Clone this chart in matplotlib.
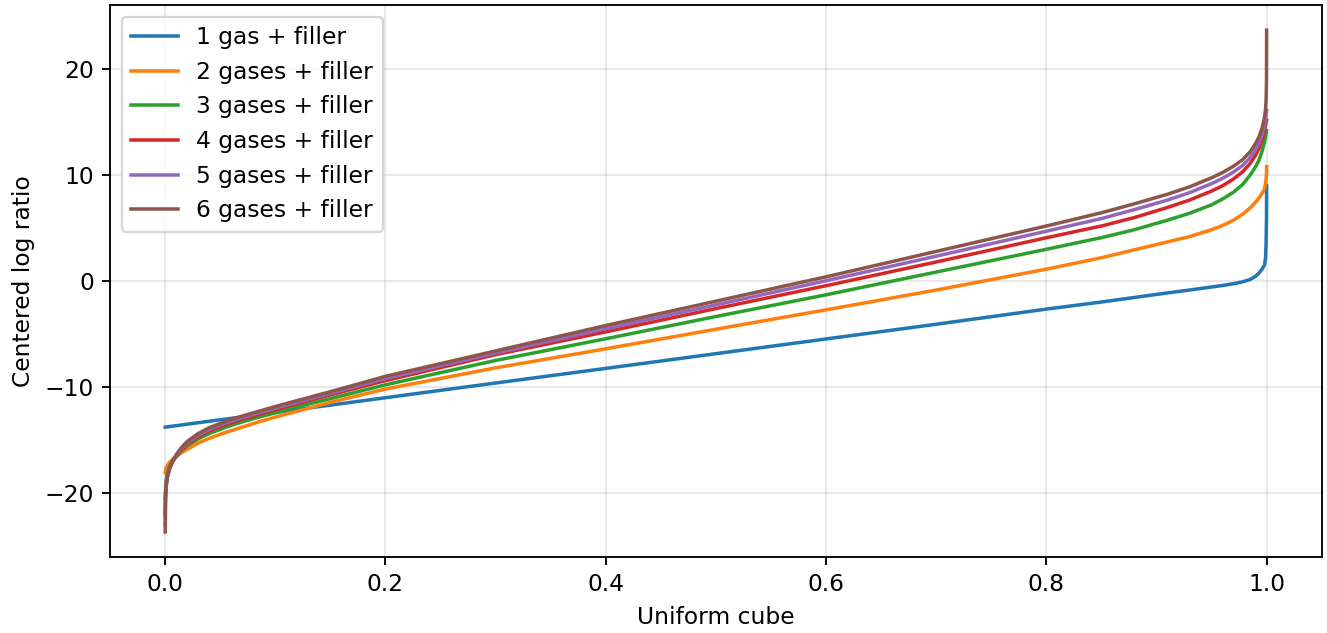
import matplotlib
matplotlib.use("Agg")
import matplotlib.pyplot as plt

# uniform cube coordinate
u = [0, 0.0002, 0.0005, 0.001, 0.002, 0.004, 0.007, 0.01, 0.015, 0.02, 0.03,
     0.04, 0.055, 0.07, 0.085, 0.1, 0.125, 0.15, 0.2, 0.3, 0.4, 0.5, 0.6, 0.7,
     0.8, 0.85, 0.88, 0.91, 0.93, 0.95, 0.96, 0.97, 0.978, 0.985, 0.99, 0.993,
     0.996, 0.998, 0.999, 0.9995, 0.9999, 1.0]

clr_1 = [-13.8, -13.8, -13.79, -13.79, -13.77, -13.74, -13.7, -13.66, -13.59,
         -13.52, -13.38, -13.24, -13.04, -12.83, -12.62, -12.41, -12.06, -11.72,
         -11.02, -9.63, -8.25, -6.86, -5.47, -4.08, -2.65, -1.98, -1.55, -1.12,
         -0.85, -0.56, -0.42, -0.25, -0.08, 0.15, 0.45, 0.75, 1.15, 1.5, 2.2,
         3.5, 6.0, 9.0]
clr_2 = [-18.1, -17.95, -17.8, -17.6, -17.4, -17.1, -16.8, -16.6, -16.2, -15.9,
         -15.3, -14.85, -14.3, -13.8, -13.3, -12.85, -12.15, -11.45, -10.2, -8.2,
         -6.4, -4.55, -2.72, -0.85, 1.12, 2.2, 2.95, 3.7, 4.2, 4.85, 5.25, 5.75,
         6.3, 6.9, 7.45, 7.85, 8.3, 8.7, 9.2, 9.6, 10.2, 10.8]
clr_3 = [-20.5, -19.8, -19.2, -18.7, -18.1, -17.5, -16.95, -16.6, -16.0, -15.55,
         -14.9, -14.4, -13.8, -13.3, -12.85, -12.45, -11.75, -11.1, -9.8, -7.5,
         -5.45, -3.35, -1.3, 0.85, 3.0, 4.1, 4.85, 5.75, 6.4, 7.2, 7.75, 8.4,
         9.1, 10.0, 10.8, 11.4, 12.3, 13.1, 13.6, 13.9, 14.1, 14.2]
clr_4 = [-22.0, -20.5, -19.7, -19.1, -18.4, -17.65, -17.0, -16.55, -15.9, -15.4,
         -14.7, -14.15, -13.55, -13.05, -12.6, -12.15, -11.45, -10.75, -9.4,
         -6.95, -4.8, -2.6, -0.44, 1.8, 4.09, 5.2, 6.0, 6.95, 7.65, 8.5, 9.0,
         9.65, 10.3, 11.1, 11.9, 12.5, 13.4, 14.2, 14.7, 15.0, 15.15, 15.2]
clr_5 = [-23.0, -20.8, -19.9, -19.25, -18.5, -17.7, -17.0, -16.5, -15.8, -15.3,
         -14.55, -14.0, -13.4, -12.9, -12.45, -12.0, -11.3, -10.6, -9.2, -6.8,
         -4.5, -2.25, 0.03, 2.35, 4.71, 5.9, 6.75, 7.65, 8.35, 9.2, 9.7, 10.3,
         10.9, 11.65, 12.4, 13.0, 13.9, 14.7, 15.3, 15.7, 16.0, 16.1]
clr_6 = [-23.7, -21.0, -20.0, -19.3, -18.5, -17.7, -16.95, -16.4, -15.7, -15.15,
         -14.4, -13.85, -13.25, -12.75, -12.3, -11.85, -11.15, -10.45, -9.0,
         -6.6, -4.2, -1.9, 0.4, 2.8, 5.2, 6.45, 7.3, 8.2, 8.9, 9.75, 10.25,
         10.85, 11.45, 12.2, 13.0, 13.6, 14.5, 15.4, 16.2, 17.0, 19.0, 23.7]

series = [clr_1, clr_2, clr_3, clr_4, clr_5, clr_6]
labels = ["1 gas + filler", "2 gases + filler", "3 gases + filler",
          "4 gases + filler", "5 gases + filler", "6 gases + filler"]

fig = plt.figure(figsize=(1327 / 168, 633 / 168), dpi=168)
ax = fig.add_axes([0.083, 0.12, 0.913, 0.872])
for vals, lab in zip(series, labels):
    ax.plot(u, vals, label=lab)
ax.grid(True, alpha=0.3)
ax.set_axisbelow(True)
ax.set_xlabel("Uniform cube")
ax.set_ylabel("Centered log ratio")
ax.legend(loc="upper left")
fig.savefig("out.png", dpi=168)
